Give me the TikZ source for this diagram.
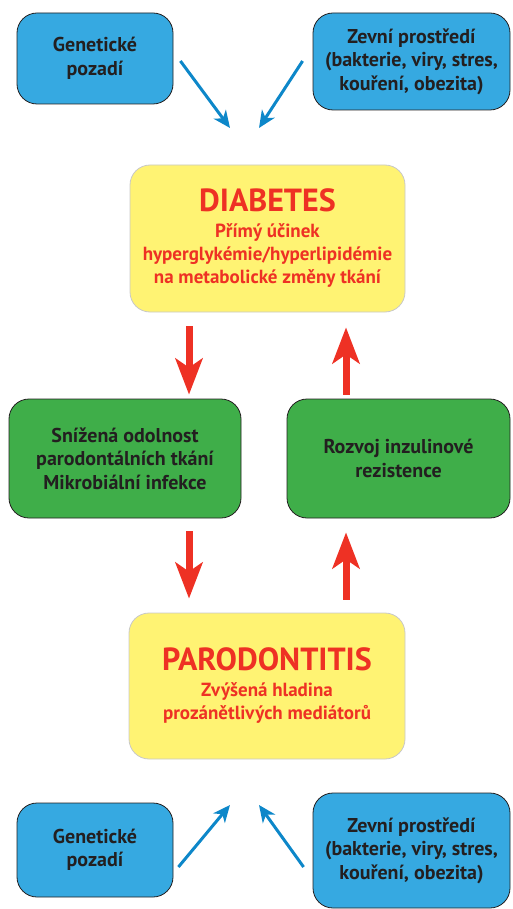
\documentclass[tikz,border=0pt]{standalone}
\usepackage{fontspec}
\setmainfont{PT Sans}
\usetikzlibrary{arrows.meta,calc}
\definecolor{boxblue}{HTML}{36A9E1}
\definecolor{boxgreen}{HTML}{3FAE49}
\definecolor{boxyellow}{HTML}{FFF373}
\definecolor{txtred}{HTML}{EE3124}
\definecolor{arrblue}{HTML}{0D87C9}
\definecolor{txtdark}{HTML}{231F20}
\definecolor{yborder}{HTML}{C8C8C8}
\tikzset{
  box/.style={rounded corners=20pt, draw=txtdark, line width=0.8pt, align=center, inner sep=0pt,
    font=\bfseries\fontsize{20}{23.5}\selectfont, text=txtdark},
  bluebox/.style={box, fill=boxblue},
  greenbox/.style={box, fill=boxgreen},
  yellowbox/.style={box, fill=boxyellow, draw=yborder, text=txtred, font=\bfseries\fontsize{19}{23}\selectfont},
  redarrow/.style={draw=txtred, line width=7pt, -{Stealth[length=36pt,width=27pt,inset=9pt]}},
  bluearrow/.style={draw=arrblue, line width=3pt, -{Stealth[length=17pt,width=15pt,inset=5pt]}},
}
\begin{document}
\begin{tikzpicture}[x=1pt,y=-1pt]
\path[use as bounding box] (0,0) rectangle (512,909);

\node[bluebox, minimum width=156pt, minimum height=91pt] (tl) at (95,58.5) {Genetické\\pozadí};
\node[bluebox, minimum width=197pt, minimum height=97pt] (tr) at (411.5,61.5) {Zevní prostředí\\(bakterie, viry, stres,\\kouření, obezita)};

\node[yellowbox, minimum width=275pt, minimum height=147pt] (diab) at (267.5,238.5)
  {{\fontsize{32}{34}\selectfont DIABETES}\\[3pt]Přímý účinek\\hyperglykémie/hyperlipidémie\\na metabolické změny tkání};

\node[greenbox, minimum width=232pt, minimum height=119pt] (gl) at (125,458.5)
  {Snížená odolnost\\parodontálních tkání\\Mikrobiální infekce};
\node[greenbox, minimum width=223pt, minimum height=119pt] (gr) at (398.5,458.5)
  {Rozvoj inzulinové\\rezistence};

\node[yellowbox, minimum width=276pt, minimum height=146pt] (paro) at (267,686)
  {{\fontsize{32}{34}\selectfont PARODONTITIS}\\[3pt]Zvýšená hladina\\prozánětlivých mediátorů};

\node[bluebox, minimum width=156pt, minimum height=94pt] (bl) at (95,850) {Genetické\\pozadí};
\node[bluebox, minimum width=197pt, minimum height=115pt] (br) at (411.5,850.5) {Zevní prostředí\\(bakterie, viry, stres,\\kouření, obezita)};

\coordinate (xl) at (189,0);
\coordinate (xr) at (346,0);
\draw[redarrow, shorten <=14pt, shorten >=4pt] (diab.south -| xl) -- (gl.north -| xl);
\draw[redarrow, shorten <=4pt, shorten >=15pt] (gr.north -| xr) -- (diab.south -| xr);
\draw[redarrow, shorten <=13pt, shorten >=14pt] (gl.south -| xl) -- (paro.north -| xl);
\draw[redarrow, shorten <=13pt, shorten >=14pt] (paro.north -| xr) -- (gr.south -| xr);

\coordinate (a1) at (230,128);
\coordinate (a2) at (259,128);
\coordinate (a3) at (230,805);
\coordinate (a4) at (259,805);
\draw[bluearrow] ([shift={(7,2.5)}]tl.east) -- (a1);
\draw[bluearrow] ([shift={(-10,-0.5)}]tr.west) -- (a2);
\draw[bluearrow] ([shift={(5,17)}]bl.east) -- (a3);
\draw[bluearrow] ([shift={(-9,16.5)}]br.west) -- (a4);
\end{tikzpicture}
\end{document}
